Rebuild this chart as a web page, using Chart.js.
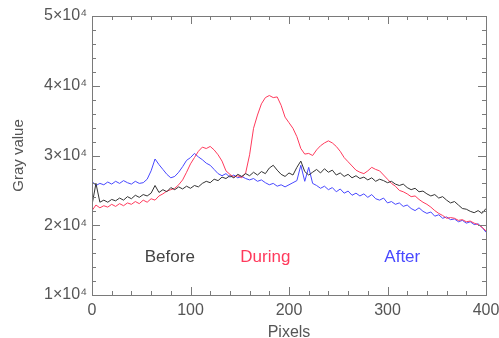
<!DOCTYPE html>
<html>
<head>
<meta charset="utf-8">
<script src="https://cdn.jsdelivr.net/npm/chart.js@4/dist/chart.umd.min.js"></script>
<style>
html,body{margin:0;padding:0;background:#fff;}
#wrap{width:499px;height:338px;position:relative;}
</style>
</head>
<body>
<div id="wrap"><canvas id="c" width="499" height="338"></canvas></div>
<script>
// Pixel positions along the profile (x axis)
const pixels = [0,4,8,12,16,20,24,28,32,36,40,44,48,52,56,60,64,68,72,76,80,84,88,92,96,100,104,108,112,116,120,124,128,132,136,140,144,148,152,156,160,164,168,172,176,180,184,188,192,196,200,204,208,212,216,220,224,228,232,236,240,244,248,252,256,260,264,268,272,276,280,284,288,292,296,300,304,308,312,316,320,324,328,332,336,340,344,348,352,356,360,364,368,372,376,380,384,388,392,396,400];

const before = [22900,26000,23300,23600,23300,23700,23500,23900,23600,24100,23800,24300,24000,24400,24200,24600,25700,24700,25100,24800,25400,25100,25500,25200,25600,25300,25700,25500,26000,26300,26100,26600,26400,26900,26700,27100,26800,27300,27000,27400,27100,27600,27200,27700,27400,28200,28600,27900,27300,27000,27500,27200,28300,29200,27700,27200,27600,28000,27500,28100,27600,27900,27200,27500,27000,27300,26800,27100,26700,26900,26500,26800,26300,26600,26400,26100,26300,25900,25700,25900,25400,25100,25300,24800,24900,24500,24200,24400,23900,24100,23600,23200,23400,22900,22400,22300,22000,21800,22100,21700,22400];

const during = [22100,22900,22500,22800,22600,23000,22700,23100,22800,23200,23000,23400,23100,23600,23300,23800,23600,24200,24500,24900,25100,25300,25800,26500,27600,28800,29700,30600,31200,31000,31300,30800,30100,29200,27800,27300,26900,27100,26800,27500,30100,33900,35800,37400,38300,38600,38300,38400,37200,35500,34700,33900,32700,31000,30200,30300,30000,30800,31400,31800,32100,31800,31300,30600,29700,29100,28500,27900,27600,27400,27800,28300,28000,27800,27200,26600,26000,25600,25000,24800,24500,24100,24200,23700,23300,23000,22600,22100,21700,21400,21000,21100,21000,20700,20800,20500,20600,20300,20100,19700,19200];

const after = [26300,25700,26000,25800,26200,25900,26300,26000,26400,26100,25900,26300,26000,26100,26600,27800,29500,28700,28000,27300,26800,27000,27600,28400,29300,29700,30300,29800,29400,28900,28600,28000,27400,27100,27400,26900,27200,26800,27000,26700,26500,26700,26300,26500,26100,25800,26000,25600,25800,25500,25800,26100,26400,28600,26300,28300,26000,25700,25300,25600,25100,25400,24800,25200,24600,24900,24300,24600,24200,24500,24000,24400,23800,23600,23900,23200,23400,23000,23200,22700,22900,22400,22100,22500,22000,21700,21900,21300,21500,21000,21200,20800,20900,20500,20700,20300,20500,20100,20200,19700,19000];

const seriesNames = ['Before','During','After'];
const xTicks = [0,100,200,300,400];
const yTicks = [10000,20000,30000,40000,50000];
const yTickLabels = ['1×10⁴','2×10⁴','3×10⁴','4×10⁴','5×10⁴'];

const colors = ['#333333','#ff3a5c','#4848ff'];
const series = [before, during, after];

const FONT = '"Liberation Sans", Arial, sans-serif';
const TXT = '#555';

const framePlugin = {
  id: 'frame',
  afterDraw(chart) {
    const {ctx, chartArea: a, scales: {x, y}} = chart;
    ctx.save();
    ctx.strokeStyle = '#7a7a7a';
    ctx.lineWidth = 1;
    ctx.strokeRect(a.left + 0.5, a.top + 0.5, a.right - a.left, a.bottom - a.top);
    ctx.beginPath();
    for (let v = 0; v <= 400; v += 20) {
      const px = Math.round(x.getPixelForValue(v)) + 0.5;
      const len = (v % 100 === 0) ? 8 : 4;
      ctx.moveTo(px, a.bottom); ctx.lineTo(px, a.bottom - len);
      ctx.moveTo(px, a.top); ctx.lineTo(px, a.top + len);
    }
    for (let v = 10000; v <= 50000; v += 2000) {
      const py = Math.round(y.getPixelForValue(v)) + 0.5;
      const len = (v % 10000 === 0) ? 8 : 4;
      ctx.moveTo(a.left, py); ctx.lineTo(a.left + len, py);
      ctx.moveTo(a.right, py); ctx.lineTo(a.right - len, py);
    }
    ctx.stroke();
    // series labels inside the plot
    const lbl = [[79,15400],[176,15400],[315,15400]];
    ctx.font = '17px ' + FONT;
    ctx.textAlign = 'center';
    ctx.textBaseline = 'middle';
    seriesNames.forEach((n, i) => {
      ctx.fillStyle = i === 0 ? '#444' : colors[i];
      ctx.fillText(n, x.getPixelForValue(lbl[i][0]), y.getPixelForValue(lbl[i][1]));
    });
    ctx.restore();
  }
};

new Chart(document.getElementById('c'), {
  type: 'line',
  data: {
    datasets: series.map((s, i) => ({
      label: seriesNames[i],
      data: pixels.map((p, j) => ({x: p, y: s[j]})),
      borderColor: colors[i],
      borderWidth: 1,
      pointRadius: 0,
      tension: 0,
      fill: false
    }))
  },
  options: {
    responsive: false,
    animation: false,
    events: [],
    layout: {padding: {left: 0, right: 13, top: 16, bottom: 0}},
    plugins: {legend: {display: false}, tooltip: {enabled: false}},
    scales: {
      x: {
        type: 'linear', min: 0, max: 400,
        afterBuildTicks: s => { s.ticks = xTicks.map(v => ({value: v})); },
        ticks: {color: TXT, font: {family: FONT, size: 16}, padding: 6, maxRotation: 0,
                callback: v => String(v)},
        grid: {display: false, drawTicks: false},
        border: {display: false},
        title: {display: true, text: 'Pixels', color: TXT, font: {family: FONT, size: 16}, padding: {top: 0, bottom: -4}},
        afterFit: s => { s.height = 43; s.paddingLeft = 0; s.paddingRight = 0; }
      },
      y: {
        type: 'linear', min: 10000, max: 50000,
        afterBuildTicks: s => { s.ticks = yTicks.map(v => ({value: v})); },
        ticks: {color: TXT, font: {family: FONT, size: 16}, padding: 5,
                callback: (v) => yTickLabels[yTicks.indexOf(v)]},
        grid: {display: false, drawTicks: false},
        border: {display: false},
        title: {display: true, text: 'Gray value', color: TXT, font: {family: FONT, size: 15}, padding: {top: 10, bottom: 0}},
        afterFit: s => { s.width = 92; s.paddingTop = 0; s.paddingBottom = 0; }
      }
    }
  },
  plugins: [framePlugin]
});
</script>
</body>
</html>
